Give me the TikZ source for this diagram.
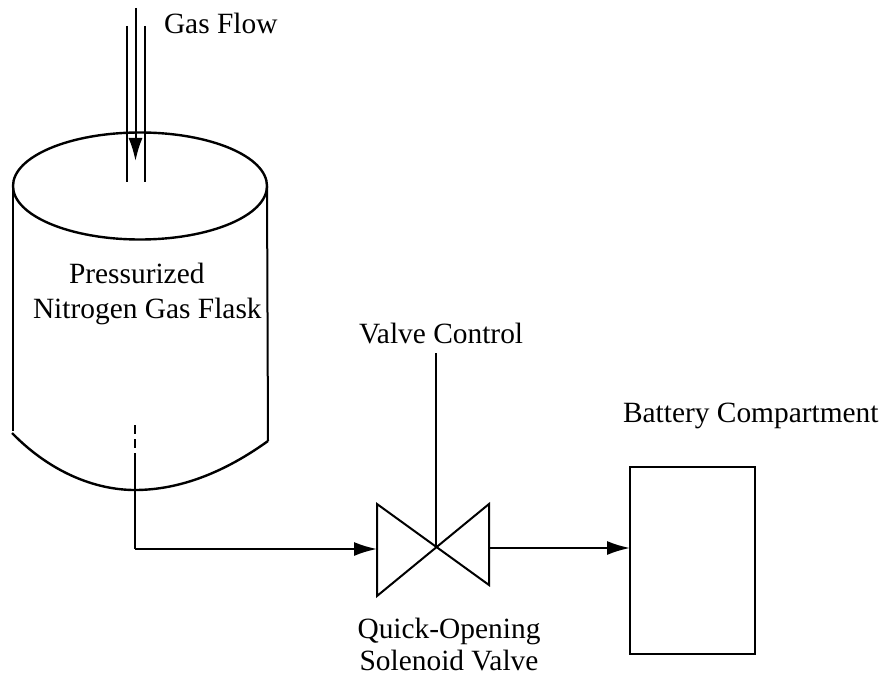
\documentclass[tikz,border=0pt]{standalone}
\usepackage{fontspec}
\setmainfont{Liberation Serif}
\usepackage{tikz}
\usetikzlibrary{positioning}
\usetikzlibrary{shapes.geometric}
\usetikzlibrary{arrows.meta}
\tikzset{
	label text/.style={inner sep=0pt, align=left, anchor=base west, font=\fontsize{29.4}{35}\selectfont},
	pipe/.style={line width=2pt},
	flask wall/.style={line width=2.4pt},
	flow/.style={line width=2pt, -{Latex[length=23pt, width=14pt]}},
}

\begin{document}
\begin{tikzpicture}[x=1pt, y=-1pt, line width=2pt]
		\useasboundingbox (0,0) rectangle (880,676);

		% flask
		\node at (140,186) [draw, flask wall, ellipse, inner sep=0pt, outer sep=0pt, minimum width=254pt, minimum height=107pt] (flasktop) {};
		\coordinate (flaskSW) at (13,431);
		\coordinate (flaskSE) at (268,441);
		\coordinate (flaskarcW) at (12,433);
		\coordinate (flaskbottom) at (135,490);
		\draw [pipe] (flasktop.west) -- (flaskSW);
		\draw [pipe] (flasktop.east) -- (flaskSE);
		\draw [flask wall] (flaskarcW) .. controls (50,472) and (95,490) .. (flaskbottom) .. controls (180,490) and (225,472) .. (flaskSE);

		% gas inlet
		\coordinate (inletLtop) at (127,26);
		\coordinate (inletLend) at (127,182);
		\coordinate (inletRtop) at (145,26);
		\coordinate (inletRend) at (145,182);
		\coordinate (inlettop) at (135.5,8);
		\coordinate (inlettip) at (135.5,161);
		\draw [pipe] (inletLtop) -- (inletLend);
		\draw [pipe] (inletRtop) -- (inletRend);
		\draw [flow] (inlettop) -- (inlettip);

		% outlet
		\coordinate (dipend) at (135,425);
		\coordinate (dipmid) at (135,462);
		\coordinate (dipcorner) at (135,549);
		\draw [pipe, dash pattern=on 9pt off 5pt] (dipend) -- (dipmid);
		\draw [pipe] (dipmid) -- (dipcorner);

		% valve
		\coordinate (valveNW) at (377,504);
		\coordinate (valveSW) at (377,596);
		\coordinate (valveNE) at (489,504);
		\coordinate (valveSE) at (489,585);
		\coordinate (valvemid) at (436,547);
		\coordinate (valveW) at (377,549);
		\coordinate (valveE) at (489,548);
		\draw [pipe] (valveNW) -- (valveSE) -- (valveNE) -- (valveSW) -- cycle;
		\draw [flow] (dipcorner) -- (valveW);

		% battery
		\node at (692.5,560.5) [draw, inner sep=0pt, outer sep=0pt, minimum width=125pt, minimum height=187pt] (battery) {};
		\draw [flow] (valveE) -- (valveE -| battery.west);

		% labels
		\node at (163,34) [label text] (gasflow) {Gas Flow};
		\node at (32,318) [label text] (flasklabel) {\hspace*{36pt}Pressurized\\Nitrogen Gas Flask};
		\node at (358,343) [label text] (valvecontrol) {Valve Control};
		\node at (622,422) [label text] (batterylabel) {Battery Compartment};
		\node at (449,670) [label text, align=center, anchor=base] (valvelabel) {Quick-Opening\\[-3pt]Solenoid Valve};

		\coordinate (controltop) at (436,353);
		\draw [pipe] (controltop) -- (valvemid);
\end{tikzpicture}
\end{document}
